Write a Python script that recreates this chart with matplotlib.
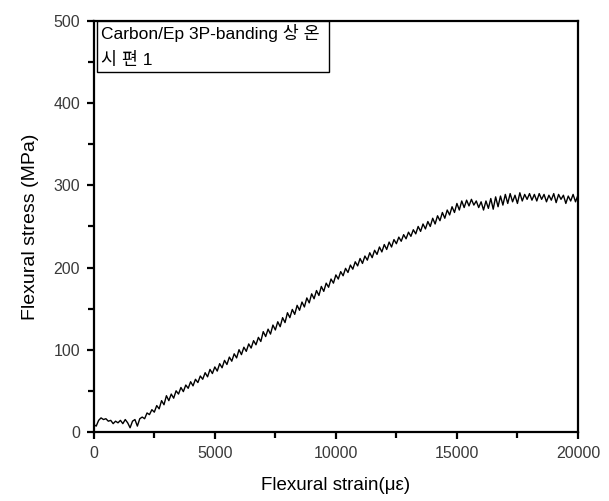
import numpy as np
import matplotlib.pyplot as plt
from matplotlib.patches import Rectangle

# 굽힘 시험 데이터 (strain 100 간격)
strain = np.arange(0, 20001, 100)
stress = [
    9, 7, 14, 17, 15, 16, 13, 14, 10, 13,
    11, 14, 10, 15, 11, 5, 13, 15, 7, 16,
    18, 16, 23, 21, 27, 24, 32, 28, 38, 33,
    44, 38, 46, 41, 50, 46, 54, 49, 57, 53,
    61, 56, 64, 60, 68, 64, 72, 67, 76, 71,
    79, 74, 83, 78, 87, 82, 91, 86, 95, 90,
    100, 94, 103, 98, 107, 102, 111, 106, 115, 110,
    122, 116, 125, 119, 130, 124, 134, 128, 139, 133,
    145, 139, 149, 143, 154, 148, 158, 152, 163, 157,
    168, 162, 172, 166, 177, 171, 181, 176, 186, 181,
    191, 186, 195, 190, 199, 194, 203, 198, 207, 202,
    211, 205, 214, 209, 218, 212, 221, 216, 225, 219,
    228, 222, 231, 225, 234, 229, 237, 232, 240, 235,
    243, 238, 246, 241, 250, 244, 253, 247, 256, 250,
    260, 253, 263, 257, 267, 260, 270, 264, 274, 267,
    278, 270, 281, 273, 282, 275, 283, 276, 281, 273,
    280, 270, 281, 272, 284, 271, 286, 274, 287, 276,
    289, 278, 290, 280, 288, 278, 291, 281, 289, 283,
    290, 282, 289, 281, 290, 283, 289, 280, 288, 282,
    290, 279, 289, 283, 288, 278, 287, 281, 289, 280,
    288,
]

legend_lines = ['Carbon/Ep 3P-banding 상 온', '시 편 1']
xticks = [0, 5000, 10000, 15000, 20000]
yticks = [0, 100, 200, 300, 400, 500]

plt.rcParams['font.family'] = ['Liberation Sans', 'Noto Sans CJK KR', 'DejaVu Sans']

fig = plt.figure(figsize=(6.09, 5.01), dpi=100)
ax = fig.add_axes([0.154, 0.138, 0.795, 0.820])

ax.plot(strain, stress, color='black', lw=1.0)

ax.set_xlim(0, 20000)
ax.set_ylim(0, 500)
ax.set_xticks(xticks)
ax.set_yticks(yticks)
ax.set_xticks(np.arange(2500, 20000, 5000), minor=True)
ax.set_yticks(np.arange(50, 500, 100), minor=True)

for s in ax.spines.values():
    s.set_linewidth(1.6)

ax.tick_params(which='both', direction='out', top=False, right=False, width=1.6,
               labelsize=11.5, labelcolor='#3a3a3a')
ax.tick_params(which='major', length=5, pad=5)
ax.tick_params(which='minor', length=4)

ax.set_xlabel('Flexural strain(\u03bc\u03b5)', fontsize=13.5, labelpad=12)
ax.set_ylabel('Flexural stress (MPa)', fontsize=14, labelpad=10)

# 범례 상자
ax.add_patch(Rectangle((0.006, 0.876), 0.48, 0.124, transform=ax.transAxes,
                       fc='white', ec='black', lw=1.0, zorder=3))
ax.text(0.014, 0.993, legend_lines[0] + '\n' + legend_lines[1], transform=ax.transAxes,
        va='top', ha='left', fontsize=12.5, linespacing=1.75, zorder=4)

plt.savefig('out.png', dpi=100)
